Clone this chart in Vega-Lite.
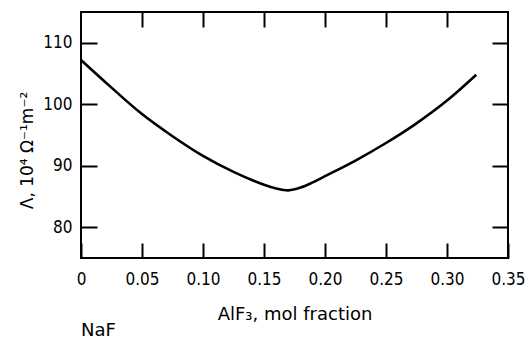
{
  "$schema": "https://vega.github.io/schema/vega-lite/v6.json",
  "autosize": "none",
  "width": 427,
  "height": 246,
  "padding": {"left": 81, "top": 12, "right": 18, "bottom": 80},
  "background": "white",
  "config": {
    "view": {"stroke": "black", "strokeWidth": 2},
    "font": "DejaVu Sans Condensed, DejaVu Sans"
  },
  "title": {
    "text": "NaF",
    "orient": "bottom",
    "anchor": "start",
    "frame": "group",
    "offset": -1,
    "fontSize": 18,
    "fontWeight": "normal",
    "font": "DejaVu Sans",
    "color": "black"
  },
  "data": {
    "values": [
      {"x": 0.0, "y": 107.2},
      {"x": 0.025, "y": 102.7},
      {"x": 0.05, "y": 98.4},
      {"x": 0.075, "y": 94.8},
      {"x": 0.1, "y": 91.6},
      {"x": 0.125, "y": 89.0},
      {"x": 0.15, "y": 86.9},
      {"x": 0.16, "y": 86.3},
      {"x": 0.17, "y": 86.0},
      {"x": 0.18, "y": 86.45},
      {"x": 0.19, "y": 87.3},
      {"x": 0.2, "y": 88.3},
      {"x": 0.225, "y": 90.85},
      {"x": 0.25, "y": 93.7},
      {"x": 0.275, "y": 96.9},
      {"x": 0.3, "y": 100.6},
      {"x": 0.324, "y": 104.8}
    ]
  },
  "resolve": {"axis": {"x": "independent", "y": "independent"}},
  "layer": [
    {
      "mark": {"type": "line", "interpolate": "catmull-rom", "color": "black", "strokeWidth": 2.6},
      "encoding": {
        "x": {
          "field": "x", "type": "quantitative",
          "scale": {"domain": [0, 0.35], "nice": false, "zero": false},
          "axis": {
            "values": [0, 0.05, 0.1, 0.15, 0.2, 0.25, 0.3, 0.35],
            "labelExpr": "datum.value == 0 ? '0' : format(datum.value, '.2f')",
            "grid": false, "domain": false,
            "tickSize": -15, "tickWidth": 2, "tickColor": "black",
            "labelPadding": 28, "labelFontSize": 17, "labelColor": "black",
            "labelFlush": false,
            "title": "AlF₃, mol fraction",
            "titleFont": "DejaVu Sans",
            "titleFontSize": 18, "titleFontWeight": "normal", "titleColor": "black",
            "titlePadding": 18
          }
        },
        "y": {
          "field": "y", "type": "quantitative",
          "scale": {"domain": [75, 115], "nice": false, "zero": false},
          "axis": {
            "values": [80, 90, 100, 110],
            "grid": false, "domain": false,
            "tickSize": -16, "tickWidth": 2, "tickColor": "black",
            "labelPadding": 25, "labelFontSize": 17, "labelColor": "black",
            "title": "Λ, 10⁴ Ω⁻¹m⁻²",
            "titleFont": "DejaVu Sans",
            "titleFontSize": 17, "titleFontWeight": "normal", "titleColor": "black",
            "titleAngle": -90, "titleX": -54, "titleY": 138,
            "titleAlign": "center", "titleBaseline": "middle"
          }
        }
      }
    },
    {
      "mark": {"type": "line", "strokeOpacity": 0},
      "encoding": {
        "x": {
          "field": "x", "type": "quantitative",
          "scale": {"domain": [0, 0.35], "nice": false, "zero": false},
          "axis": {
            "orient": "top",
            "values": [0.05, 0.1, 0.15, 0.2, 0.25, 0.3],
            "labels": false, "grid": false, "domain": false, "title": null,
            "tickSize": -15, "tickWidth": 2, "tickColor": "black"
          }
        },
        "y": {
          "field": "y", "type": "quantitative",
          "scale": {"domain": [75, 115], "nice": false, "zero": false},
          "axis": {
            "orient": "right",
            "values": [80, 90, 100, 110],
            "labels": false, "grid": false, "domain": false, "title": null,
            "tickSize": -16, "tickWidth": 2, "tickColor": "black"
          }
        }
      }
    }
  ]
}
